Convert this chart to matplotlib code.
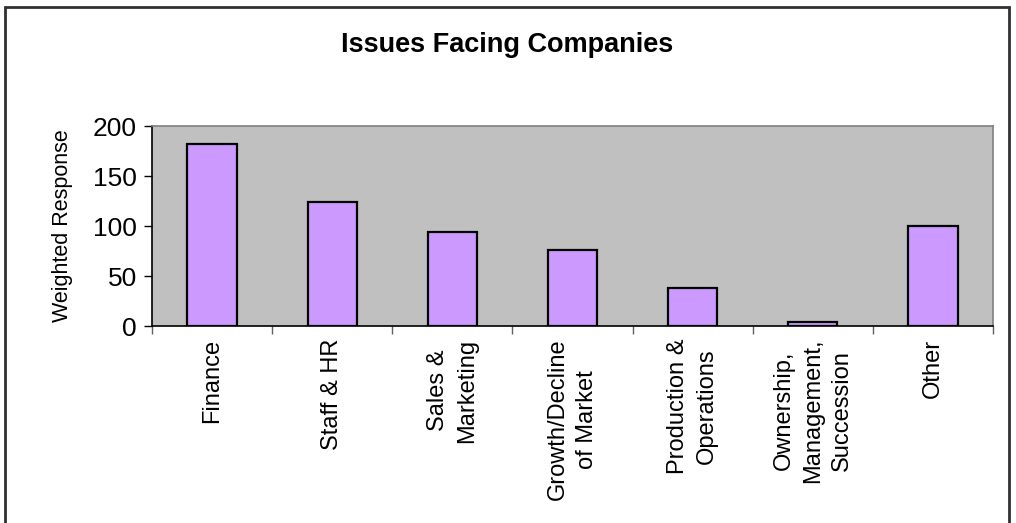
import numpy as np
import matplotlib.pyplot as plt
from matplotlib.patches import Rectangle

plt.rcParams['font.family'] = ['Liberation Sans', 'DejaVu Sans']

categories = ['Finance', 'Staff & HR', 'Sales &\nMarketing', 'Growth/Decline\nof Market',
              'Production &\nOperations', 'Ownership,\nManagement,\nSuccession', 'Other']
values = [182, 124, 94, 76, 38, 4, 100]
y_ticks = [0, 50, 100, 150, 200]

fig = plt.figure(figsize=(10.16, 5.23), dpi=100)
ax = fig.add_axes([152 / 1016, 1 - 326 / 523, (993 - 152) / 1016, 200 / 523])

x = np.arange(len(categories))
ax.bar(x, values, width=0.41, color='#CC99FF', edgecolor='black', linewidth=1.6, zorder=3)

ax.set_facecolor('#C0C0C0')
ax.set_xlim(-0.5, len(categories) - 0.5)
ax.set_ylim(0, 200)
ax.set_yticks(y_ticks)
ax.tick_params(axis='y', labelsize=19, length=6, width=1, direction='out', pad=5)

ax.set_xticks(x)
ax.set_xticklabels(categories, rotation=90, fontsize=17, ha='center', va='top',
                   multialignment='center', linespacing=1.4)
ax.tick_params(axis='x', which='major', length=0, pad=9)
ax.set_xticks(np.arange(-0.5, len(categories)), minor=True)
ax.tick_params(axis='x', which='minor', length=6, width=1, color='#606060')

for s in ['top', 'right']:
    ax.spines[s].set_color('#808080')
    ax.spines[s].set_linewidth(1.2)
for s in ['left', 'bottom']:
    ax.spines[s].set_color('black')
    ax.spines[s].set_linewidth(1.2)

ax.set_ylabel('Weighted Response', fontsize=15.5, labelpad=14)

fig.text(507 / 1016, 1 - 45 / 523, 'Issues Facing Companies', fontsize=19.5,
         fontweight='bold', ha='center', va='center')

# chart frame
fig.patches.append(Rectangle((5 / 1016, -0.05), 1004 / 1016, 1 - 7 / 523 + 0.05,
                             transform=fig.transFigure, fill=False,
                             edgecolor='#303030', linewidth=2, clip_on=False))

fig.savefig('out.png', dpi=100, facecolor='white')
